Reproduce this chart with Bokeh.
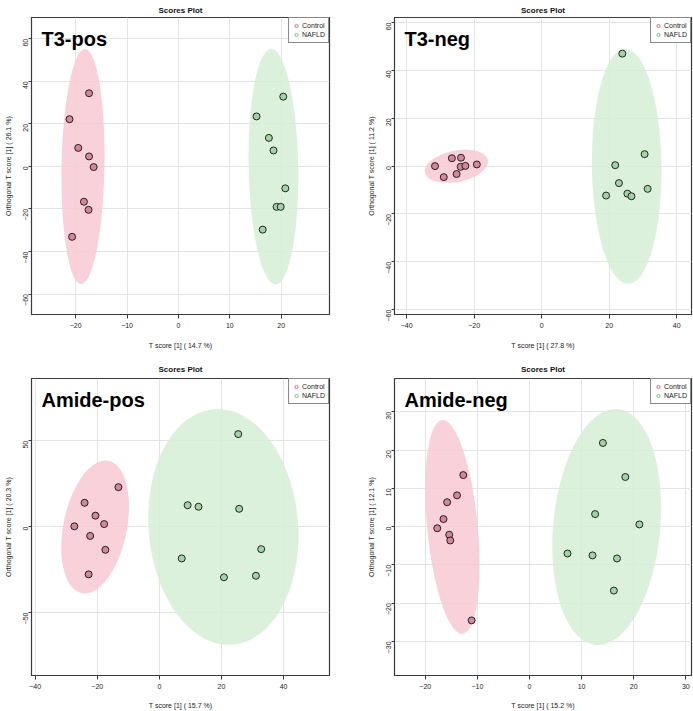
import math
import numpy as np
from bokeh.plotting import figure
from bokeh.models import FixedTicker, Label, Legend, LegendItem, Range1d
from bokeh.layouts import gridplot
from bokeh.embed import file_html
from bokeh.resources import INLINE

groups = ["Control", "NAFLD"]

# ---- T3-pos ----
t3pos_ctrl_x = [-17.4, -21.2, -19.5, -17.4, -16.5, -18.4, -17.5, -20.7]
t3pos_ctrl_y = [34.4, 22.2, 8.7, 4.7, -0.3, -16.6, -20.4, -33.1]
t3pos_nafld_x = [20.4, 15.2, 17.6, 18.5, 20.8, 19.1, 19.9, 16.4]
t3pos_nafld_y = [32.8, 23.5, 13.4, 7.5, -10.3, -19.0, -19.0, -29.7]
t3pos_xticks = [-20, -10, 0, 10, 20]
t3pos_yticks = [-60, -40, -20, 0, 20, 40, 60]

# ---- T3-neg ----
t3neg_ctrl_x = [-31.6, -29.0, -26.6, -23.9, -24.0, -25.2, -22.6, -19.2]
t3neg_ctrl_y = [0.0, -4.6, 3.3, 3.5, -0.3, -3.3, 0.1, 0.7]
t3neg_nafld_x = [23.9, 30.5, 21.8, 22.9, 19.1, 25.4, 26.6, 31.4]
t3neg_nafld_y = [47.0, 5.0, 0.4, -7.1, -12.3, -11.5, -12.6, -9.5]
t3neg_xticks = [-40, -20, 0, 20, 40]
t3neg_yticks = [-60, -40, -20, 0, 20, 40, 60]

# ---- Amide-pos ----
amidepos_ctrl_x = [-13.2, -24.1, -20.6, -17.8, -27.4, -22.3, -17.4, -22.8]
amidepos_ctrl_y = [23.0, 13.9, 6.4, 1.5, 0.2, -5.4, -13.5, -27.8]
amidepos_nafld_x = [25.4, 9.1, 12.6, 25.7, 32.8, 7.2, 20.8, 31.1]
amidepos_nafld_y = [53.9, 12.5, 11.6, 10.4, -13.1, -18.5, -29.5, -28.6]
amidepos_xticks = [-40, -20, 0, 20, 40]
amidepos_yticks = [-50, 0, 50]

# ---- Amide-neg ----
amideneg_ctrl_x = [-12.7, -13.9, -15.8, -16.5, -17.7, -15.4, -15.2, -11.1]
amideneg_ctrl_y = [13.5, 8.2, 6.4, 2.0, -0.4, -2.1, -3.6, -24.5]
amideneg_nafld_x = [14.1, 18.4, 12.6, 21.1, 7.3, 12.1, 16.8, 16.2]
amideneg_nafld_y = [21.9, 13.0, 3.3, 0.6, -7.0, -7.5, -8.3, -16.7]
amideneg_xticks = [-20, -10, 0, 10, 20, 30]
amideneg_yticks = [-30, -20, -10, 0, 10, 20, 30]

panel_names = ["T3-pos", "T3-neg", "Amide-pos", "Amide-neg"]
x_pct = ["14.7", "27.8", "15.7", "15.2"]
y_pct = ["26.1", "11.2", "20.3", "12.1"]

FONT = "Liberation Sans"
ELL_COLORS = ["#F8C9D4", "#D6EED6"]
PT_COLORS = ["#D4869C", "#A2D3A8"]
LEG_COLORS = ["#E06A88", "#7CC486"]
CONF_SCALE = math.sqrt(-2.0 * math.log(1 - 0.95))


def conf_ellipse(xs, ys, n=160):
    pts = np.vstack([xs, ys])
    mu = pts.mean(axis=1)
    cov = np.cov(pts)
    vals, vecs = np.linalg.eigh(cov)
    t = np.linspace(0, 2 * np.pi, n)
    circ = np.vstack([np.cos(t), np.sin(t)])
    e = vecs @ (np.sqrt(vals)[:, None] * circ) * CONF_SCALE + mu[:, None]
    return e[0].tolist(), e[1].tolist()


def make_panel(idx, data, xticks, yticks, xr, yr, w, h, borders, xlab_standoff, title_standoff):
    bl, br, bt, bb = borders
    p = figure(width=w, height=h, output_backend="svg", toolbar_location=None,
               x_range=Range1d(*xr), y_range=Range1d(*yr),
               min_border_left=bl, min_border_right=br,
               min_border_top=bt, min_border_bottom=bb,
               background_fill_color="white", border_fill_color="white")
    p.title.text = "Scores Plot"
    p.title.align = "center"
    p.title.text_font = FONT
    p.title.text_font_size = "8px"
    p.title.text_font_style = "bold"
    p.title.text_color = "#111111"
    p.title.standoff = title_standoff

    p.outline_line_color = "#3a3a3a"
    p.outline_line_width = 1.2
    p.grid.grid_line_color = "#E4E4E4"
    p.grid.grid_line_width = 1

    p.xaxis.ticker = FixedTicker(ticks=xticks)
    p.yaxis.ticker = FixedTicker(ticks=yticks)
    for ax in (p.xaxis[0], p.yaxis[0]):
        ax.major_label_text_font = FONT
        ax.major_label_text_font_size = "7px"
        ax.major_label_text_color = "#222222"
        ax.axis_label_text_font = FONT
        ax.axis_label_text_font_size = "7px"
        ax.axis_label_text_font_style = "normal"
        ax.axis_label_text_color = "#222222"
        ax.axis_line_color = "#3a3a3a"
        ax.major_tick_line_color = "#3a3a3a"
        ax.major_tick_in = 0
        ax.minor_tick_line_color = None
    p.xaxis.major_tick_out = 4
    p.xaxis.major_label_standoff = 4
    p.xaxis.axis_label_standoff = xlab_standoff
    p.yaxis.major_tick_out = 3
    p.yaxis.major_label_standoff = 3
    p.yaxis.axis_label_standoff = 6
    p.yaxis.major_label_orientation = math.pi / 2
    p.xaxis.axis_label = "T score [1] ( %s %%)" % x_pct[idx]
    p.yaxis.axis_label = "Orthogonal T score [1] ( %s %%)" % y_pct[idx]

    (cx, cy), (nx, ny) = data
    for gi, (gx, gy) in enumerate([(cx, cy), (nx, ny)]):
        ex, ey = conf_ellipse(gx, gy)
        p.patch(ex, ey, fill_color=ELL_COLORS[gi], fill_alpha=0.85, line_color=None)
    for gi, (gx, gy) in enumerate([(cx, cy), (nx, ny)]):
        p.scatter(gx, gy, marker="circle", size=7, fill_color=PT_COLORS[gi],
                  line_color="#111111", line_width=0.9)

    leg_r = [p.scatter([np.nan], [np.nan], marker="circle", size=4, fill_alpha=0,
                       line_color=LEG_COLORS[gi], line_width=1) for gi in range(2)]
    legend = Legend(items=[LegendItem(label=groups[gi], renderers=[leg_r[gi]]) for gi in range(2)],
                    location="top_right", margin=0, padding=3, spacing=0,
                    label_text_font=FONT, label_text_font_size="7px",
                    label_text_color="#222222",
                    label_height=9, glyph_height=9, glyph_width=8, label_standoff=2,
                    border_line_color="#111111", border_line_width=1,
                    background_fill_color="white", background_fill_alpha=1)
    p.add_layout(legend)

    lab = Label(x=xr[0], y=yr[1], x_offset=10, y_offset=-21, text=panel_names[idx],
                text_font=FONT, text_font_size="20px", text_font_style="bold",
                text_color="black", text_baseline="alphabetic", text_align="left")
    p.add_layout(lab)
    return p


p1 = make_panel(0, ((t3pos_ctrl_x, t3pos_ctrl_y), (t3pos_nafld_x, t3pos_nafld_y)),
                t3pos_xticks, t3pos_yticks, (-28.6, 29.4), (-69.6, 70.0),
                346, 355, (31, 17, 15, 41), 11, 6)
p2 = make_panel(1, ((t3neg_ctrl_x, t3neg_ctrl_y), (t3neg_nafld_x, t3neg_nafld_y)),
                t3neg_xticks, t3neg_yticks, (-43.6, 44.4), (-62.0, 62.1),
                347, 355, (48, 2, 15, 41), 11, 6)
p3 = make_panel(2, ((amidepos_ctrl_x, amidepos_ctrl_y), (amidepos_nafld_x, amidepos_nafld_y)),
                amidepos_xticks, amidepos_yticks, (-41.2, 54.8), (-86.7, 86.3),
                346, 356, (31, 17, 23, 34), 10, 9)
p4 = make_panel(3, ((amideneg_ctrl_x, amideneg_ctrl_y), (amideneg_nafld_x, amideneg_nafld_y)),
                amideneg_xticks, amideneg_yticks, (-25.9, 31.1), (-38.9, 38.75),
                347, 356, (48, 2, 23, 34), 10, 9)

grid = gridplot([[p1, p2], [p3, p4]], toolbar_location=None)
open("out.html", "w").write(file_html(grid, INLINE))
